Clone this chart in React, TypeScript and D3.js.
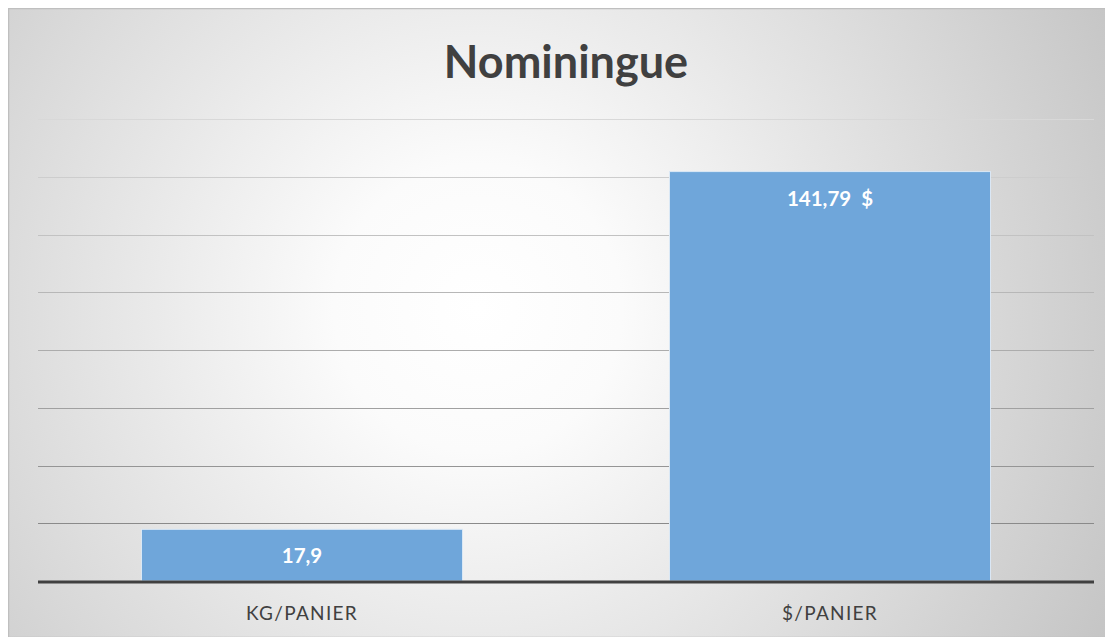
import React, { useRef, useEffect } from "react";
import * as d3 from "d3";

const categories = ["KG/PANIER", "$/PANIER"];
const values = [17.9, 141.79];
const valueSuffix = ["", "  $"];
const yTicks = [0, 20, 40, 60, 80, 100, 120, 140, 160];
const title = "Nominingue";

export default function App() {
  const svgRef = useRef<SVGSVGElement>(null);

  useEffect(() => {
    const width = 1105;
    const height = 629;
    const marginLeft = 30;
    const marginRight = 19;
    const plotTop = 111;
    const plotBottom = 573;

    const svg = d3.select(svgRef.current)
      .attr("width", width)
      .attr("height", height)
      .attr("viewBox", [0, 0, width, height].join(" "))
      .style("display", "block");

    svg.selectAll("*").remove();

    const defs = svg.append("defs");
    const bg = defs.append("radialGradient")
      .attr("id", "bg")
      .attr("gradientUnits", "userSpaceOnUse")
      .attr("cx", 470).attr("cy", 300).attr("r", 720);
    bg.append("stop").attr("offset", "0%").attr("stop-color", "#ffffff");
    bg.append("stop").attr("offset", "20%").attr("stop-color", "#fbfbfb");
    bg.append("stop").attr("offset", "100%").attr("stop-color", "#c4c4c4");

    svg.append("rect")
      .attr("x", 0.5).attr("y", 0.5)
      .attr("width", width).attr("height", height)
      .attr("fill", "url(#bg)")
      .attr("stroke", "#bfbfbf")
      .attr("stroke-width", 1.5);

    const x = d3.scaleBand()
      .domain(categories)
      .range([marginLeft, width - marginRight])
      .paddingInner(0.392)
      .paddingOuter(0.196);

    const y = d3.scaleLinear()
      .domain([0, d3.max(yTicks) as number])
      .range([plotBottom, plotTop]);

    const gridColor = d3.interpolateRgb("#d8d8d8", "#7f7f7f");

    // Gridlines
    svg.append("g")
      .selectAll("line")
      .data(yTicks.filter(t => t > 0))
      .join("line")
        .attr("x1", marginLeft)
        .attr("x2", width - marginRight)
        .attr("y1", d => Math.round(y(d)) + 0.5)
        .attr("y2", d => Math.round(y(d)) + 0.5)
        .attr("stroke", d => gridColor(1 - d / 160))
        .attr("stroke-width", 1.2);

    // Bars
    svg.append("g")
      .selectAll("rect")
      .data(values)
      .join("rect")
        .attr("x", (d, i) => x(categories[i]) as number)
        .attr("y", d => y(d))
        .attr("width", x.bandwidth())
        .attr("height", d => y(0) - y(d))
        .attr("fill", "#6fa6da")
        .attr("stroke", "#dbe8f5")
        .attr("stroke-width", 1);

    // Baseline
    svg.append("line")
      .attr("x1", marginLeft)
      .attr("x2", width - marginRight)
      .attr("y1", y(0) + 1)
      .attr("y2", y(0) + 1)
      .attr("stroke", "#404040")
      .attr("stroke-width", 3);

    const fr = d3.formatLocale({ decimal: ",", thousands: " ", grouping: [3], currency: ["", " $"] });
    const fmt = (v: number) => fr.format("~r")(v);

    // Data labels
    svg.append("g")
      .selectAll("text")
      .data(values)
      .join("text")
        .attr("x", (d, i) => (x(categories[i]) as number) + x.bandwidth() / 2)
        .attr("y", d => y(d) + 27)
        .attr("dy", "0.35em")
        .attr("text-anchor", "middle")
        .attr("fill", "#ffffff")
        .attr("font-family", "Lato, sans-serif")
        .attr("font-weight", "bold")
        .attr("font-size", 20.5)
        .style("white-space", "pre")
        .text((d, i) => fmt(d) + valueSuffix[i]);

    // X axis labels
    svg.append("g")
      .selectAll("text")
      .data(categories)
      .join("text")
        .attr("x", d => (x(d) as number) + x.bandwidth() / 2)
        .attr("y", 605)
        .attr("dy", "0.35em")
        .attr("text-anchor", "middle")
        .attr("fill", "#404040")
        .attr("font-family", "Lato, sans-serif")
        .attr("font-size", 19)
        .attr("letter-spacing", 1.3)
        .text(d => d);

    // Title
    svg.append("text")
      .attr("x", (marginLeft + width - marginRight) / 2)
      .attr("y", 54)
      .attr("dy", "0.35em")
      .attr("text-anchor", "middle")
      .attr("fill", "#404040")
      .attr("font-family", "Lato, sans-serif")
      .attr("font-weight", "bold")
      .attr("font-size", 45)
      .text(title);
  }, []);

  return <svg ref={svgRef}></svg>;
}
